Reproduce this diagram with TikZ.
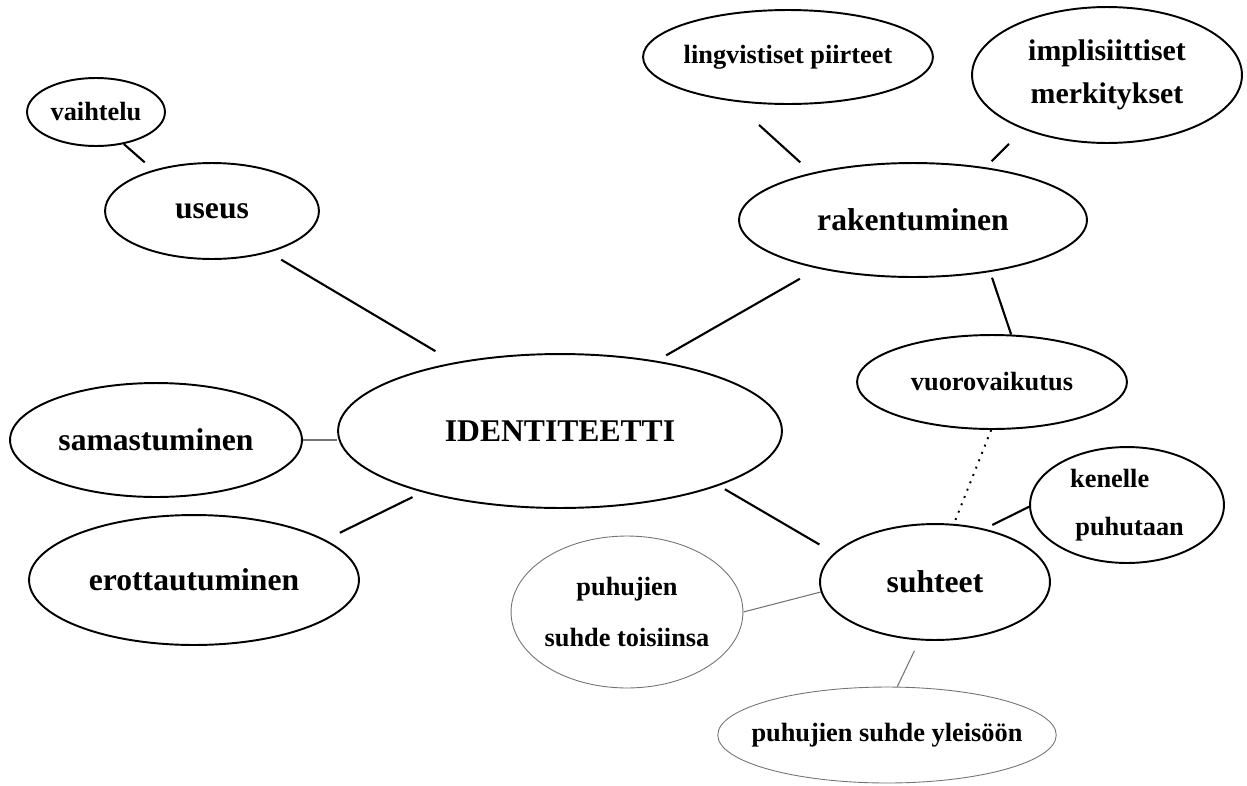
\documentclass[tikz,border=0pt]{standalone}
\usepackage{fontspec}
\setmainfont{Liberation Serif}
\usepackage{tikz}
\usetikzlibrary{shapes.geometric}
\tikzset{soikio/.style={ellipse,draw,line width=1.1pt,inner xsep=-9pt,inner ysep=0pt},
	harmaa/.style={ellipse,draw=black!55,line width=0.5pt,inner xsep=-9pt,inner ysep=0pt},
	koko/.style 2 args={minimum width=#1*0.04cm,minimum height=#2*0.04cm},
	iso/.style={font=\fontsize{18}{22}\selectfont\bfseries},
	pieni/.style={font=\fontsize{15}{27}\selectfont\bfseries},
	viiva/.style={line width=1.2pt},
	ohut/.style={draw=black!55,line width=0.6pt},
	pisteet/.style={line width=1.1pt,dash pattern=on 1.1pt off 3.4pt}}

\begin{document}
\begin{tikzpicture}[x=0.02cm,y=-0.02cm]
\useasboundingbox (0,0) rectangle (1247,785);
\node [soikio,pieni,koko={69}{34}] (vaihtelu) at (96,112) {vaihtelu};
\node [soikio,iso,koko={107}{48}] (useus) at (212,211) {useus};
\node [soikio,iso,koko={146}{57}] (samastuminen) at (156,440) {samastuminen};
\node [soikio,iso,koko={165}{65}] (erottautuminen) at (194,580) {erottautuminen};
\node [soikio,iso,koko={222}{77}] (identiteetti) at (560,431) {IDENTITEETTI};
\node [soikio,pieni,koko={145}{47}] (lingvistiset) at (788,57) {lingvistiset piirteet};
\node [soikio,align=center,font=\fontsize{17}{24.5}\selectfont\bfseries,koko={135}{68}] (implisiittiset) at (1107,75) {implisiittiset\\merkitykset};
\node [soikio,iso,koko={174}{57}] (rakentuminen) at (913,220) {rakentuminen};
\node [soikio,pieni,koko={135}{47}] (vuorovaikutus) at (992,382) {vuorovaikutus};
\node [soikio,pieni,align=left,koko={97}{58}] (kenelle) at (1127,505) {kenelle\\\hspace*{3pt}puhutaan};
\node [soikio,iso,koko={115}{58}] (suhteet) at (935,582) {suhteet};
\node [harmaa,align=center,font=\fontsize{15}{29}\selectfont\bfseries,koko={116}{76}] (toisiinsa) at (627,612) {puhujien\\suhde toisiinsa};
\node [harmaa,pieni,koko={163}{48}] (yleisoon) at (887,735) {puhujien suhde yleisöön};

\draw [viiva,shorten >=0.23cm] (vaihtelu.-49) -- (useus.145);
\draw [viiva,shorten <=0.28cm,shorten >=0.44cm] (useus.-36) -- (identiteetti.147);
\draw [ohut] (samastuminen.east) -- (samastuminen.east -| identiteetti.west);
\draw [viiva,shorten <=0.32cm,shorten >=0.22cm] (erottautuminen.17) -- (identiteetti.-156);
\draw [viiva,shorten <=0.70cm,shorten >=0.31cm] (lingvistiset.-141) -- (rakentuminen.155);
\draw [viiva,shorten <=0.41cm,shorten >=0.17cm] (implisiittiset.-147) -- (rakentuminen.36);
\draw [viiva,shorten <=0.41cm,shorten >=0.22cm] (rakentuminen.-153) -- (identiteetti.36);
\draw [viiva,shorten <=0.12cm] (rakentuminen.-34) -- (vuorovaikutus.68);
\draw [pisteet] (vuorovaikutus.-91) -- (suhteet.72);
\draw [viiva,shorten <=0.14cm,shorten >=0.34cm] (identiteetti.-19) -- (suhteet.164);
\draw [viiva,shorten <=0.17cm] (suhteet.47) -- (kenelle.-179);
\draw [ohut] (toisiinsa.east) -- (suhteet.185);
\draw [ohut,shorten <=0.23cm] (suhteet.-105) -- (yleisoon.78);
\end{tikzpicture}
\end{document}
